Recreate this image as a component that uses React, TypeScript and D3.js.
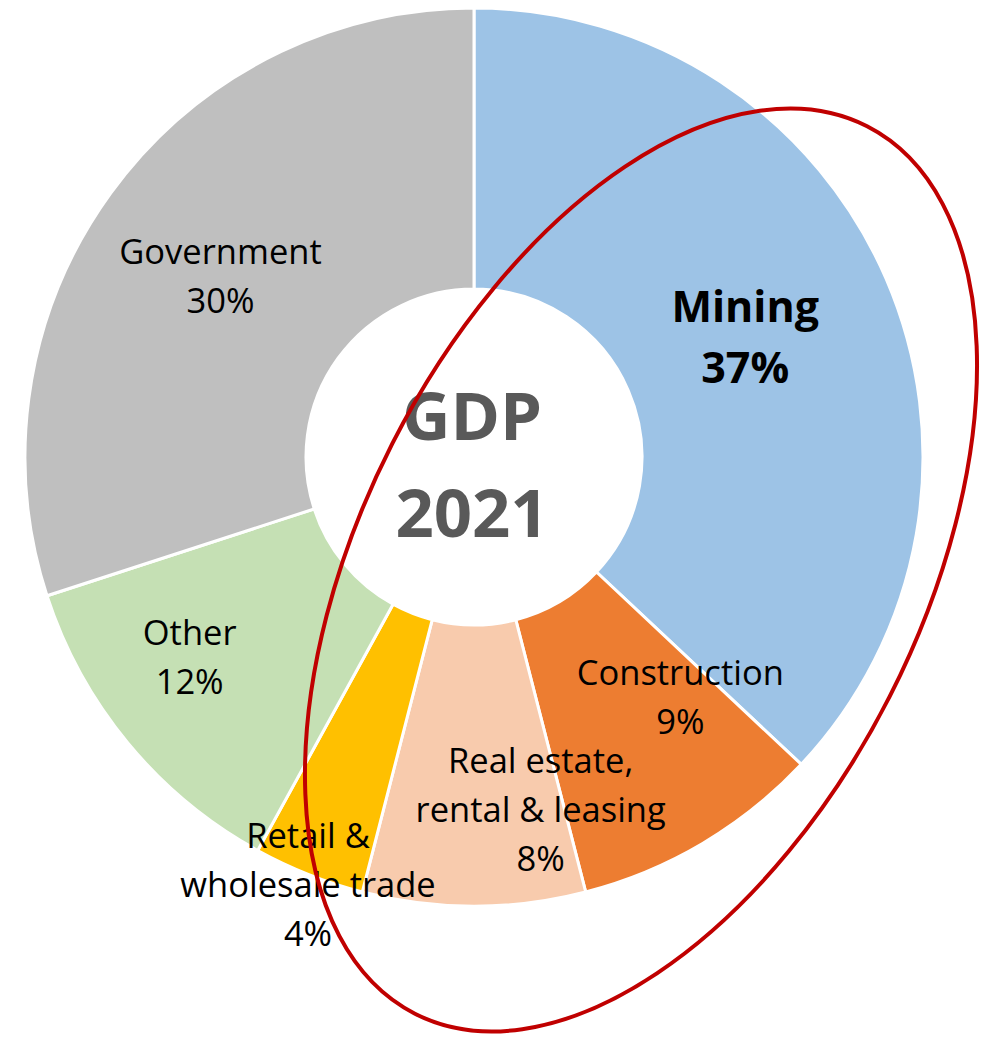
import React from 'react';
import * as d3 from 'd3';

// slice data, clockwise from 12 o'clock
const categories = ['Mining', 'Construction', 'Real estate, rental & leasing', 'Retail & wholesale trade', 'Other', 'Government'];
const shares = [37, 9, 8, 4, 12, 30];
const labelLines = [
  ['Mining', '37%'],
  ['Construction', '9%'],
  ['Real estate,', 'rental & leasing', '8%'],
  ['Retail &', 'wholesale trade', '4%'],
  ['Other', '12%'],
  ['Government', '30%'],
];
const colors = ['#9DC3E6', '#ED7D31', '#F8CBAD', '#FFC000', '#C5E0B4', '#BFBFBF'];
const centerLines = ['GDP', '2021'];

// label placement (angle in degrees from top, radius in px), like Excel's best fit
const labelAngle = [66.4, 139.4, 169.3, 201.2, 234.8, 305.4];
const labelRadius = [296, 317, 359, 459, 348, 311];

const W = 981;
const H = 1037;
const cx = 474;
const cy = 457;
const outerR = 449;
const innerR = 168;

export default function App() {
  const pie = d3.pie<number>().sort(null).value(d => d);
  const arcs = pie(shares);
  const arc = d3.arc<d3.PieArcDatum<number>>().innerRadius(innerR).outerRadius(outerR);

  return (
    <svg width={W} height={H} style={{ position: 'absolute', left: 0, top: 0, background: '#fff' }}
      fontFamily="'Open Sans', sans-serif">
      <g transform={`translate(${cx},${cy})`}>
        {arcs.map((a, i) => (
          <path key={categories[i]} d={arc(a) || ''} fill={colors[i]} stroke="#fff" strokeWidth={3} />
        ))}

        {/* center title */}
        {centerLines.map((t, i) => (
          <text key={t} x={-2} y={-17 + i * 97} textAnchor="middle" fontSize={67} fontWeight="bold" fill="#595959">{t}</text>
        ))}

        {/* data labels */}
        {labelLines.map((lines, i) => {
          const ang = (labelAngle[i] * Math.PI) / 180;
          const x = labelRadius[i] * Math.sin(ang);
          const y = -labelRadius[i] * Math.cos(ang);
          const bold = i === 0;
          const lh = bold ? 61 : 49;
          const shift = bold ? 14 : 12;
          return (
            <text key={categories[i]} textAnchor="middle" fontSize={bold ? 43 : 34.5}
              fontWeight={bold ? 'bold' : 'normal'} fill="#000">
              {lines.map((l, j) => (
                <tspan key={j} x={x} y={y + shift + (j - (lines.length - 1) / 2) * lh}>{l}</tspan>
              ))}
            </text>
          );
        })}
      </g>

      {/* red highlight ellipse */}
      <ellipse cx={641} cy={570} rx={498} ry={279} transform="rotate(-63 641 570)"
        fill="none" stroke="#C00000" strokeWidth={4} />
    </svg>
  );
}
